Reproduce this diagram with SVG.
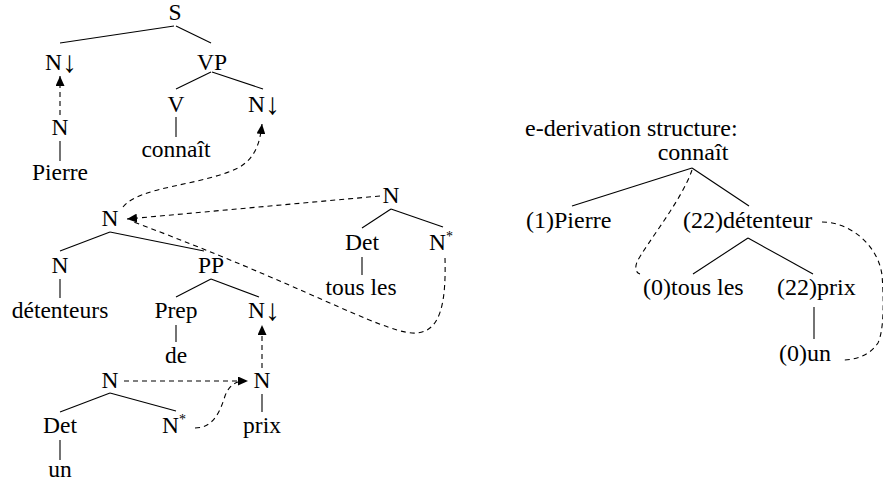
<svg xmlns="http://www.w3.org/2000/svg" width="883" height="483" viewBox="0 0 883 483">
<defs>
<marker id="ah" markerWidth="11" markerHeight="9" refX="10" refY="4.5" orient="auto" markerUnits="userSpaceOnUse">
<path d="M0,0 L10,4.5 L0,9 z" fill="#000" stroke="none"/>
</marker>
<style>
.t text{font-family:'Liberation Serif','Times New Roman','DejaVu Serif',serif;font-size:23.5px;fill:#000}
.t .c{text-anchor:middle}
.t .e{font-size:24px}
.t .sup{font-size:14px}
.t .ar{font-size:30px}
.s{stroke:#000;stroke-width:1.1;fill:none}
.s .d{stroke-dasharray:5 4}
</style>
</defs>
<rect width="883" height="483" fill="#fff"/>

<g id="edges" class="s">
<line x1="174" y1="26" x2="60" y2="43"/>
<line x1="176" y1="26" x2="211" y2="43"/>
<line x1="211" y1="72" x2="176" y2="89"/>
<line x1="212" y1="72" x2="263" y2="89"/>
<line x1="60" y1="141" x2="60" y2="161"/>
<line x1="176" y1="117" x2="176" y2="137"/>
<line x1="110" y1="232" x2="60" y2="251"/>
<line x1="110" y1="232" x2="204" y2="251"/>
<line x1="60" y1="279" x2="60" y2="298"/>
<line x1="211" y1="279" x2="176" y2="297"/>
<line x1="211" y1="279" x2="259" y2="297"/>
<line x1="176" y1="325" x2="176" y2="342"/>
<line x1="110" y1="393" x2="60" y2="412"/>
<line x1="110" y1="393" x2="176" y2="411"/>
<line x1="60" y1="440" x2="60" y2="460"/>
<line x1="262" y1="394" x2="262" y2="412"/>
<line x1="391" y1="209" x2="362" y2="228"/>
<line x1="391" y1="209" x2="443" y2="227"/>
<line x1="362" y1="257" x2="362" y2="275"/>

<line class="d" x1="60" y1="115" x2="60" y2="76" marker-end="url(#ah)"/>
<path class="d" d="M123,207 C140,186 200,186 238,168 C256,158 260,142 262,124" marker-end="url(#ah)"/>
<line class="d" x1="380" y1="196" x2="127" y2="219" marker-end="url(#ah)"/>
<path class="d" d="M445,258 C446,300 442,335 412,333 C380,331 300,284 131,221"/>
<line class="d" x1="262" y1="368" x2="262" y2="325" marker-end="url(#ah)"/>
<line class="d" x1="124" y1="381" x2="248" y2="381" marker-end="url(#ah)"/>
<path class="d" d="M195,428 C213,428 220,412 225,396 C229,385 236,381 246,381"/>

<line x1="692" y1="168" x2="572" y2="206"/>
<line x1="692" y1="168" x2="749" y2="206"/>
<line x1="748" y1="238" x2="693" y2="274"/>
<line x1="748" y1="238" x2="813" y2="274"/>
<line x1="814" y1="307" x2="814" y2="339"/>
<path class="d" d="M692,170 C682,200 646,244 637,262 C634,270 637,273 640,274"/>
<path class="d" d="M822,222 C850,222 878,245 882,275 C884,300 884,330 878,343 C870,355 856,360 843,360"/>
</g>

<g class="t" font-family="'Liberation Serif', 'Times New Roman', serif">
<g id="n-S"><text class="c" x="175" y="20">S</text></g>
<g id="n-Nsubst1"><text x="45" y="70">N<tspan class="ar" dy="2">↓</tspan></text></g>
<g id="n-VP"><text class="c" x="212" y="70">VP</text></g>
<g id="n-V"><text class="c" x="176" y="112">V</text></g>
<g id="n-Nsubst2"><text x="248" y="112">N<tspan class="ar" dy="2">↓</tspan></text></g>
<g id="n-Npierre"><text class="c" x="60" y="135">N</text></g>
<g id="n-pierre"><text class="c" x="60" y="180">Pierre</text></g>
<g id="n-connait"><text class="c" x="176" y="157">connaît</text></g>

<g id="n-Nmain"><text class="c" x="110" y="226">N</text></g>
<g id="n-Ndet"><text class="c" x="60" y="273">N</text></g>
<g id="n-detenteurs"><text class="c" x="60" y="318">détenteurs</text></g>
<g id="n-PP"><text class="c" x="211" y="273">PP</text></g>
<g id="n-Prep"><text class="c" x="176" y="318">Prep</text></g>
<g id="n-de"><text class="c" x="176" y="363">de</text></g>
<g id="n-Nsubst3"><text x="248" y="318">N<tspan class="ar" dy="2">↓</tspan></text></g>

<g id="n-Ntous"><text class="c" x="391" y="203">N</text></g>
<g id="n-Det1"><text class="c" x="362" y="250">Det</text></g>
<g id="n-Nstar1"><text x="429" y="250">N<tspan class="sup" dy="-9">*</tspan></text></g>
<g id="n-tousles"><text class="c" x="361" y="295">tous les</text></g>

<g id="n-Nun"><text class="c" x="110" y="388">N</text></g>
<g id="n-Det2"><text class="c" x="60" y="433">Det</text></g>
<g id="n-Nstar2"><text x="162" y="433">N<tspan class="sup" dy="-9">*</tspan></text></g>
<g id="n-un"><text class="c" x="60" y="477">un</text></g>
<g id="n-Nprix"><text class="c" x="262" y="388">N</text></g>
<g id="n-prix"><text class="c" x="262" y="433">prix</text></g>

<g id="n-title"><text class="e" x="525" y="136">e-derivation structure:</text></g>
<g id="n-d-connait"><text class="e c" x="693" y="160">connaît</text></g>
<g id="n-d-pierre"><text class="e" x="526" y="228">(1)Pierre</text></g>
<g id="n-d-detenteur"><text class="e" x="683" y="228">(22)détenteur</text></g>
<g id="n-d-tousles"><text class="e" x="643" y="295">(0)tous les</text></g>
<g id="n-d-prix"><text class="e" x="777" y="295">(22)prix</text></g>
<g id="n-d-un"><text class="e" x="779" y="361">(0)un</text></g>
</g>
</svg>
